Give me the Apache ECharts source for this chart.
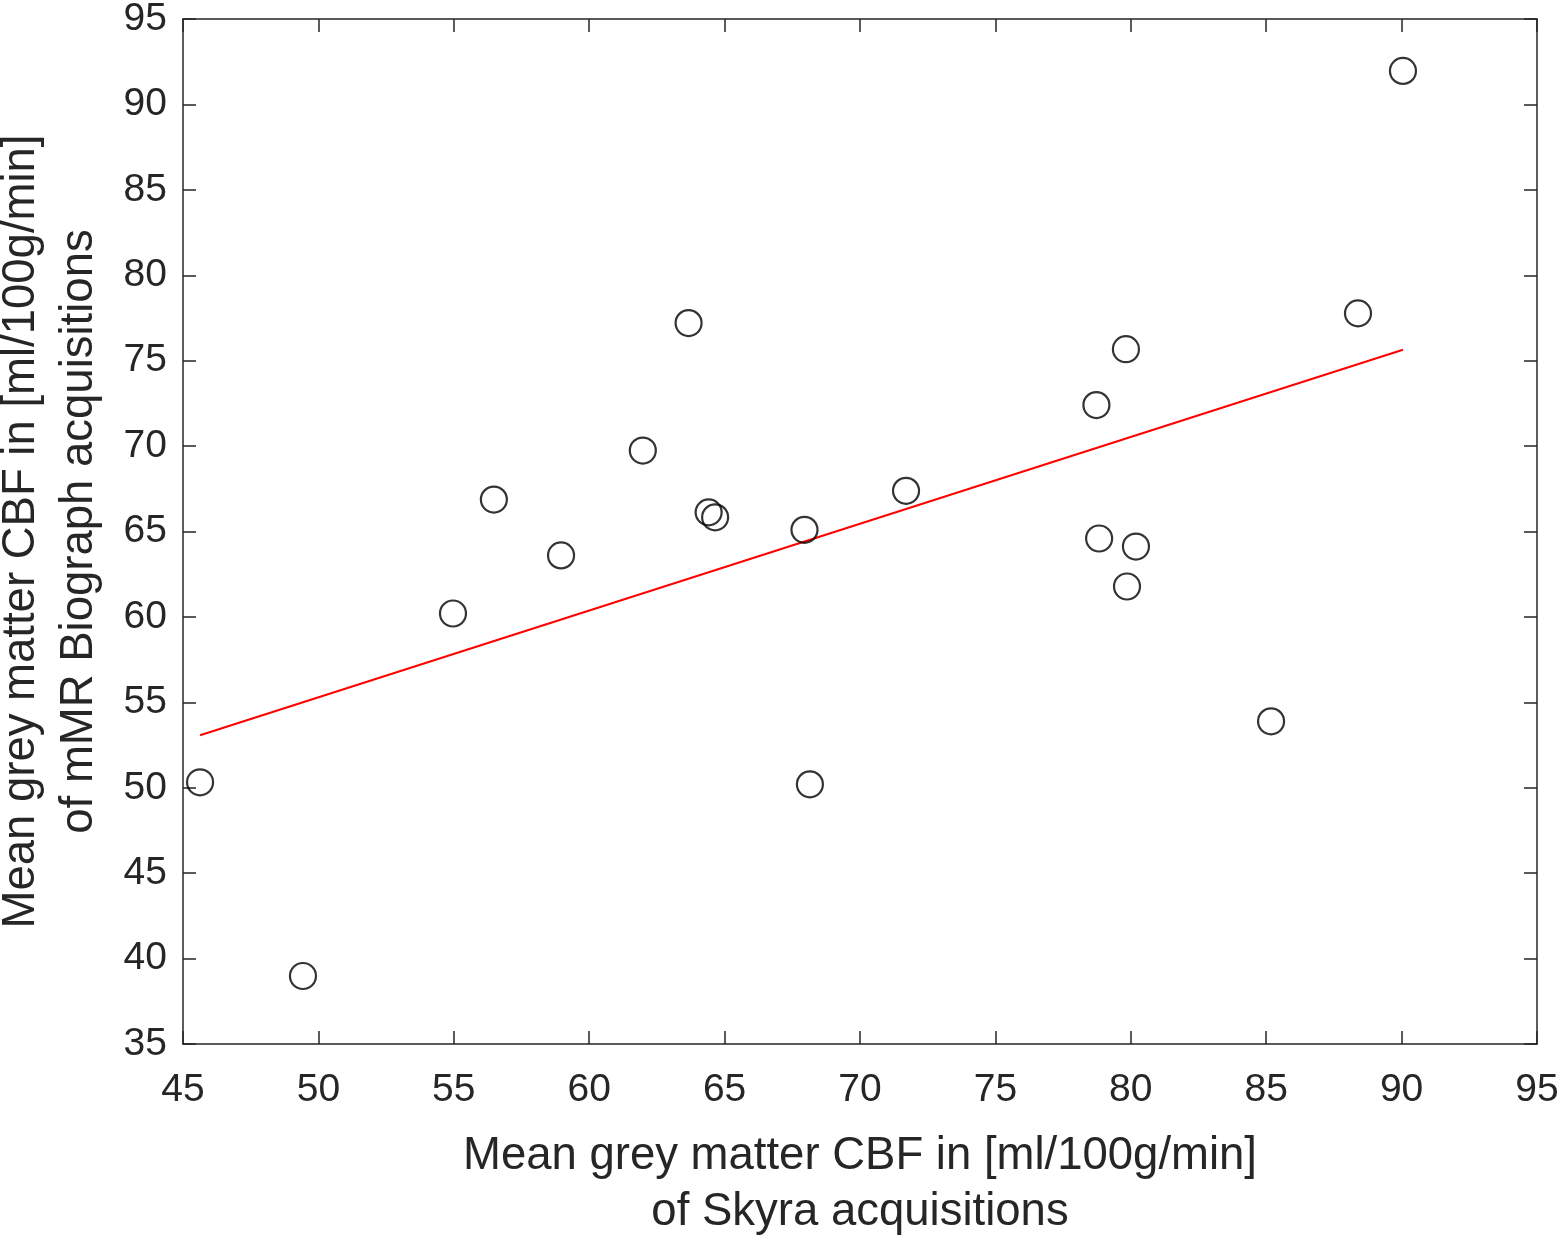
<!DOCTYPE html>
<html><head><meta charset="utf-8">
<script src="https://cdn.jsdelivr.net/npm/echarts@6/dist/echarts.min.js"></script>
<style>html,body{margin:0;padding:0;background:#fff}#c{width:1565px;height:1237px}</style>
</head><body><div id="c"></div>
<script>
const skyra = [45.63, 49.43, 54.97, 56.48, 58.96, 61.98, 63.67, 64.41, 64.65, 67.95, 68.15, 71.70, 78.73, 78.83, 79.82, 79.86, 80.19, 85.18, 88.39, 90.05];
const biograph = [50.32, 38.98, 60.20, 66.87, 63.60, 69.74, 77.20, 66.12, 65.83, 65.10, 50.20, 67.38, 72.40, 64.59, 75.67, 61.78, 64.12, 53.89, 77.77, 91.96];
const fitX = [45.63, 90.05];
const fitY = [53.07, 75.64];
const xTicks = [45, 50, 55, 60, 65, 70, 75, 80, 85, 90, 95];
const yTicks = [35, 40, 45, 50, 55, 60, 65, 70, 75, 80, 85, 90, 95];
const xName = 'Mean grey matter CBF in [ml/100g/min]\nof Skyra acquisitions';
const yName = 'Mean grey matter CBF in [ml/100g/min]\nof mMR Biograph acquisitions';

const axisColor = '#262626';
const font = 'Liberation Sans, Arial, sans-serif';
const chart = echarts.init(document.getElementById('c'));
const baseAxis = {
  type: 'value', splitLine: {show: false},
  axisLine: {show: true, onZero: false, lineStyle: {color: axisColor, width: 1.5}},
  axisTick: {show: true, inside: true, length: 13, lineStyle: {color: axisColor, width: 1.5}},
};
chart.setOption({
  animation: false,
  grid: {left: 183, right: 28, top: 19, bottom: 193, containLabel: false, outerBoundsMode: 'none'},
  xAxis: [
    Object.assign({}, baseAxis, {
      min: xTicks[0], max: xTicks[xTicks.length - 1], interval: 5, position: 'bottom',
      axisLabel: {color: axisColor, fontSize: 39, fontFamily: font, margin: 27},
      name: xName, nameLocation: 'middle', nameGap: 84,
      nameTextStyle: {color: axisColor, fontSize: 45.5, fontFamily: font, lineHeight: 56}
    }),
    Object.assign({}, baseAxis, {
      min: xTicks[0], max: xTicks[xTicks.length - 1], interval: 5, position: 'top',
      axisLabel: {show: false}
    })
  ],
  yAxis: [
    Object.assign({}, baseAxis, {
      min: yTicks[0], max: yTicks[yTicks.length - 1], interval: 5, position: 'left',
      axisLabel: {color: axisColor, fontSize: 39, fontFamily: font, margin: 16},
      name: yName, nameLocation: 'middle', nameGap: 75, nameRotate: 90,
      nameTextStyle: {color: axisColor, fontSize: 45.5, fontFamily: font, lineHeight: 58}
    }),
    Object.assign({}, baseAxis, {
      min: yTicks[0], max: yTicks[yTicks.length - 1], interval: 5, position: 'right',
      axisLabel: {show: false}
    })
  ],
  series: [
    {
      type: 'line', data: fitX.map((x, i) => [x, fitY[i]]), symbol: 'none',
      lineStyle: {color: '#ff0000', width: 2}, z: 2
    },
    {
      type: 'scatter', data: skyra.map((x, i) => [x, biograph[i]]),
      symbol: 'circle', symbolSize: 26,
      itemStyle: {color: 'rgba(255,255,255,0)', borderColor: '#000', borderWidth: 2.2}, z: 3
    }
  ]
});
</script></body></html>
